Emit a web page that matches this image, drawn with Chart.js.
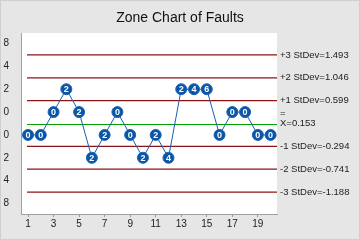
<!DOCTYPE html>
<html>
<head>
<meta charset="utf-8">
<script src="https://cdn.jsdelivr.net/npm/chart.js@4.4.1/dist/chart.umd.min.js"></script>
<style>
  html, body { margin: 0; padding: 0; background: #e6e6e6; overflow: hidden; }
  canvas { display: block; }
</style>
</head>
<body>
<canvas id="zone" width="360" height="240"></canvas>
<script>
// Zone chart data
const samples = [1, 2, 3, 4, 5, 6, 7, 8, 9, 10, 11, 12, 13, 14, 15, 16, 17, 18, 19, 20];
const zonePos = [-0.5, -0.5, 0.5, 1.5, 0.5, -1.5, -0.5, 0.5, -0.5, -1.5, -0.5, -1.5, 1.5, 1.5, 1.5, -0.5, 0.5, 0.5, -0.5, -0.5];
const scores = [0, 0, 0, 2, 2, 2, 2, 0, 0, 2, 2, 4, 2, 4, 6, 0, 0, 0, 0, 0];

// zone weights shown on the y axis (top to bottom)
const yTickPos = [3.5, 2.5, 1.5, 0.5, -0.5, -1.5, -2.5, -3.5];
const yTickLabels = ['8', '4', '2', '0', '0', '2', '4', '8'];
const xTicks = [1, 3, 5, 7, 9, 11, 13, 15, 17, 19];

// zone boundaries
const limitPos = [3, 2, 1, 0, -1, -2, -3];
const limitLabels = ['+3 StDev=1.493', '+2 StDev=1.046', '+1 StDev=0.599', 'X=0.153',
                     '-1 StDev=-0.294', '-2 StDev=-0.741', '-3 StDev=-1.188'];
const limitColors = ['#8c1414', '#8c1414', '#8c1414', '#00a000', '#8c1414', '#8c1414', '#8c1414'];

const FONT = 'Liberation Sans, Arial, sans-serif';

// sigma lines as datasets, the centre line is drawn by the plugin below
const limitDatasets = limitPos.filter(v => v !== 0).map(v => ({
    type: 'line',
    data: [{ x: 0.92, y: v }, { x: 20.5, y: v }],
    borderColor: limitColors[limitPos.indexOf(v)],
    backgroundColor: limitColors[limitPos.indexOf(v)],
    borderWidth: 1.2,
    pointRadius: 0,
    order: 2
}));

// draws background, title, centre line, limit labels and point scores
const decor = {
    id: 'decor',
    beforeDraw(chart) {
        const { ctx, chartArea: a } = chart;
        ctx.save();
        ctx.fillStyle = '#e6e6e6';
        ctx.fillRect(0, 0, chart.width, chart.height);
        ctx.strokeStyle = '#cfcfcf';
        ctx.strokeRect(0.5, 0.5, chart.width - 1, chart.height - 1);
        ctx.fillStyle = '#ffffff';
        ctx.fillRect(a.left, a.top, a.right - a.left, a.bottom - a.top);
        ctx.fillStyle = '#111';
        ctx.font = '14px ' + FONT;
        ctx.textAlign = 'center';
        ctx.textBaseline = 'middle';
        ctx.fillText('Zone Chart of Faults', 180, 18);
        ctx.restore();
    },
    beforeDatasetsDraw(chart) {
        const { ctx, chartArea: a } = chart;
        const py = Math.round(chart.scales.y.getPixelForValue(0)) + 0.5;
        const x0 = chart.scales.x.getPixelForValue(0.92);
        ctx.save();
        ctx.strokeStyle = limitColors[limitPos.indexOf(0)];
        ctx.lineWidth = 1;
        ctx.beginPath();
        ctx.moveTo(x0, py);
        ctx.lineTo(a.right, py);
        ctx.stroke();
        ctx.restore();
    },
    afterDraw(chart) {
        const { ctx, chartArea: a } = chart;
        const y = chart.scales.y;
        ctx.save();
        ctx.fillStyle = '#222';
        ctx.font = '9.5px ' + FONT;
        ctx.textAlign = 'left';
        ctx.textBaseline = 'middle';
        limitPos.forEach((v, i) => {
            const py = y.getPixelForValue(v);
            ctx.fillText(limitLabels[i], a.right + 3, py);
            if (v === 0) ctx.fillText('=', a.right + 3, py - 10);
        });
        // scores inside the points
        const meta = chart.getDatasetMeta(limitDatasets.length);
        ctx.fillStyle = '#ffffff';
        ctx.font = 'bold 9px ' + FONT;
        ctx.textAlign = 'center';
        meta.data.forEach((pt, i) => {
            ctx.fillText(String(scores[i]), pt.x, pt.y + 0.5);
        });
        ctx.restore();
    }
};

new Chart(document.getElementById('zone'), {
    type: 'line',
    data: {
        datasets: [...limitDatasets, {
            type: 'line',
            data: samples.map((s, i) => ({ x: s, y: zonePos[i] })),
            borderColor: '#1a5fb0',
            borderWidth: 1,
            backgroundColor: '#0a55a5',
            pointBorderColor: '#1b63b5',
            pointBorderWidth: 1,
            pointRadius: 5.5,
            order: 1
        }]
    },
    options: {
        responsive: false,
        animation: false,
        devicePixelRatio: 1,
        layout: { padding: { left: 0, right: 83, top: 33, bottom: 0 } },
        plugins: {
            legend: { display: false },
            tooltip: { enabled: false }
        },
        scales: {
            x: {
                type: 'linear',
                min: 0.45,
                max: 20.5,
                afterBuildTicks: s => { s.ticks = xTicks.map(v => ({ value: v })); },
                afterFit: s => { s.height = 26; },
                ticks: { color: '#222', font: { size: 10, family: FONT }, padding: 1, maxRotation: 0 },
                grid: { display: true, drawOnChartArea: false, tickLength: 3, color: '#999' },
                border: { display: true, color: '#a0a0a0' }
            },
            y: {
                type: 'linear',
                min: -3.96,
                max: 3.96,
                afterBuildTicks: s => { s.ticks = yTickPos.map(v => ({ value: v })); },
                afterFit: s => { s.width = 21; },
                ticks: {
                    color: '#222',
                    font: { size: 10, family: FONT },
                    padding: 4,
                    callback: v => yTickLabels[yTickPos.indexOf(v)]
                },
                grid: { display: false },
                border: { display: true, color: '#a0a0a0' }
            }
        }
    },
    plugins: [decor]
});
</script>
</body>
</html>
